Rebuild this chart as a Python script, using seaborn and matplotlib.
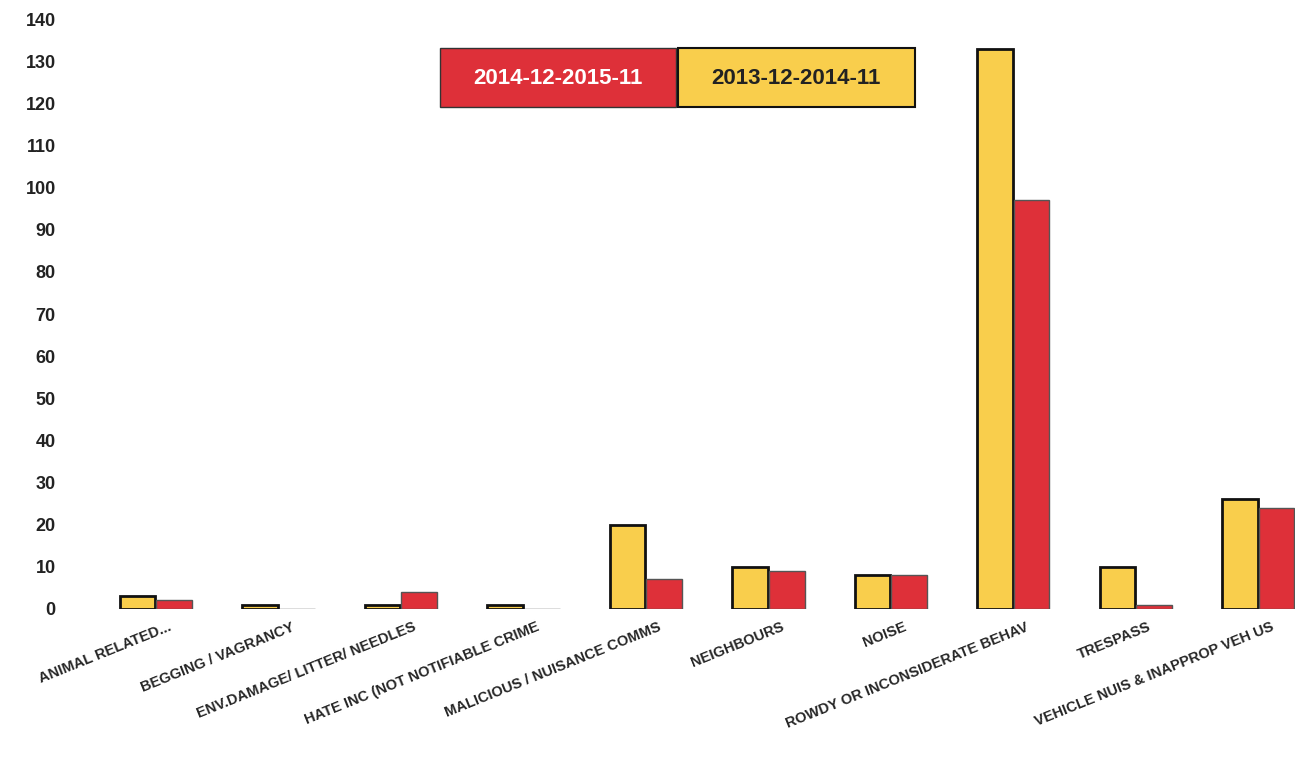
import pandas as pd
import seaborn as sns
import matplotlib.pyplot as plt
from matplotlib.patches import Rectangle

categories = [
    "ANIMAL RELATED...",
    "BEGGING / VAGRANCY",
    "ENV.DAMAGE/ LITTER/ NEEDLES",
    "HATE INC (NOT NOTIFIABLE CRIME",
    "MALICIOUS / NUISANCE COMMS",
    "NEIGHBOURS",
    "NOISE",
    "ROWDY OR INCONSIDERATE BEHAV",
    "TRESPASS",
    "VEHICLE NUIS & INAPPROP VEH US",
]
prev_year = [3, 1, 1, 1, 20, 10, 8, 133, 10, 26]   # 2013-12-2014-11
this_year = [2, 0, 4, 0, 7, 9, 8, 97, 1, 24]      # 2014-12-2015-11
period_prev = "2013-12-2014-11"
period_this = "2014-12-2015-11"

yellow = "#F9CE4C"
red = "#DE3039"

df = pd.DataFrame({
    "category": categories * 2,
    "count": prev_year + this_year,
    "period": [period_prev] * len(categories) + [period_this] * len(categories),
})

sns.set_style("white")
plt.rcParams['font.family'] = ['Liberation Sans', 'DejaVu Sans']

fig = plt.figure(figsize=(12.95, 7.64), dpi=100)
ax = fig.add_axes([0.058, 0.203, 0.942, 0.772])

sns.barplot(data=df, x="category", y="count", hue="period",
            hue_order=[period_prev, period_this],
            palette=[yellow, red], saturation=1, width=0.6, gap=0.03,
            legend=False, ax=ax)

for bar in ax.containers[0]:
    bar.set_edgecolor("#111111")
    bar.set_linewidth(2)
for bar in ax.containers[1]:
    bar.set_edgecolor("#555555")
    bar.set_linewidth(1)

ax.set_ylim(0, 140)
ax.set_xlim(-0.66, 9.3)
ax.set_yticks(range(0, 141, 10))
ax.tick_params(axis="y", labelsize=13, length=0, pad=14)
for t in ax.get_yticklabels():
    t.set_fontweight("bold")
    t.set_color("#222222")
ax.set_xticks([i + 0.1 for i in range(len(categories))])
ax.set_xticklabels(categories, rotation=22, ha="right", rotation_mode="anchor",
                   fontsize=10.5, fontweight="bold")
ax.tick_params(axis="x", length=0, pad=8)
ax.set_xlabel("")
ax.set_ylabel("")
sns.despine(ax=ax, left=True, bottom=True)

# legend drawn as two coloured boxes
fig.patches.append(Rectangle((440 / 1295, 1 - 107 / 764), 236 / 1295, 59 / 764,
                             transform=fig.transFigure, facecolor=red,
                             edgecolor="#333333", lw=1))
fig.patches.append(Rectangle((678 / 1295, 1 - 107 / 764), 237 / 1295, 59 / 764,
                             transform=fig.transFigure, facecolor=yellow,
                             edgecolor="#111111", lw=1.5))
fig.text(558 / 1295, 1 - 78 / 764, period_this, ha="center", va="center",
         fontsize=16, fontweight="bold", color="white")
fig.text(796 / 1295, 1 - 78 / 764, period_prev, ha="center", va="center",
         fontsize=16, fontweight="bold", color="#222222")

fig.savefig("out.png", dpi=100)
